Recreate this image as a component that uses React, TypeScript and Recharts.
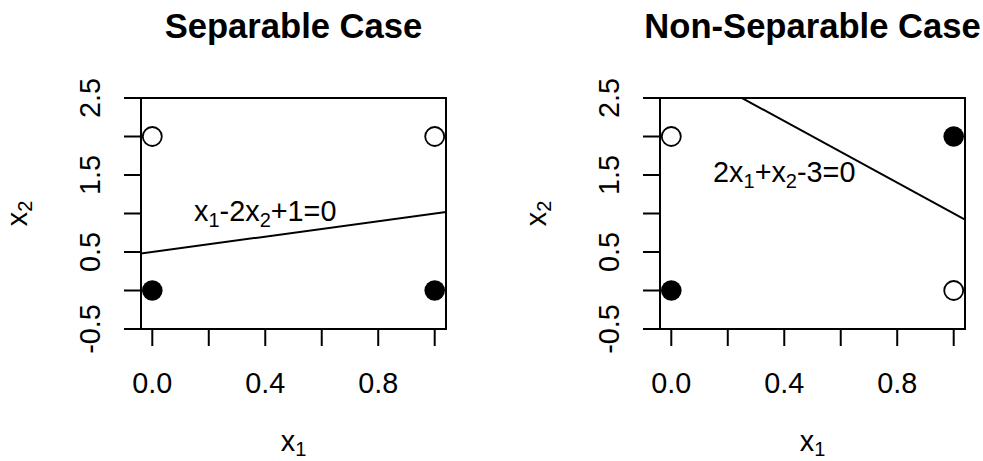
import React from 'react';
import { ScatterChart, Scatter, XAxis, YAxis, ReferenceArea, ReferenceLine, ReferenceDot, Label } from 'recharts';

const FONT = '"Liberation Sans", Arial, Helvetica, sans-serif';
const FS = 28.8;
const SUB = 20;

// axis ticks (R draws every tick but drops overlapping labels)
const xTicks = [0, 0.2, 0.4, 0.6, 0.8, 1.0];
const xTickLabels = [0, 0.4, 0.8];
const yTicks = [-0.5, 0, 0.5, 1, 1.5, 2, 2.5];
const yTickLabels = [-0.5, 0.5, 1.5, 2.5];
const xDomain = [-0.04, 1.04];
const yDomain = [-0.5, 2.5];

// separable case
const sepOpen = [{ x: 0, y: 2 }, { x: 1, y: 2 }];
const sepFilled = [{ x: 0, y: 0 }, { x: 1, y: 0 }];
const sepLine = [{ x: -1, y: 0 }, { x: 2, y: 1.5 }]; // x1 - 2x2 + 1 = 0
const sepEqPos = { x: 0.4, y: 1 };
const sepEq: [string, boolean][] = [['x', false], ['1', true], ['-2x', false], ['2', true], ['+1=0', false]];

// non-separable case
const nonOpen = [{ x: 0, y: 2 }, { x: 1, y: 0 }];
const nonFilled = [{ x: 0, y: 0 }, { x: 1, y: 2 }];
const nonLine = [{ x: 0, y: 3 }, { x: 2, y: -1 }]; // 2x1 + x2 - 3 = 0
const nonEqPos = { x: 0.4, y: 1.5 };
const nonEq: [string, boolean][] = [['2x', false], ['1', true], ['+x', false], ['2', true], ['-3=0', false]];

const x1Title: [string, boolean][] = [['x', false], ['1', true]];
const x2Title: [string, boolean][] = [['x', false], ['2', true]];

function MathText({ x, y, parts, transform, subShift = 6 }: any) {
  let shift = 0;
  return (
    <text x={x} y={y} textAnchor="middle" fontSize={FS} fontFamily={FONT} fill="#000" transform={transform}>
      {parts.map(([t, sub]: [string, boolean], i: number) => {
        const target = sub ? subShift : 0;
        const dy = target - shift;
        shift = target;
        return (
          <tspan key={i} dy={dy} fontSize={sub ? SUB : FS}>{t}</tspan>
        );
      })}
    </text>
  );
}

const XTick = ({ x, y, payload }: any) => {
  if (!xTickLabels.some((v) => Math.abs(v - payload.value) < 1e-9)) return null;
  return (
    <text x={x} y={y + 47} textAnchor="middle" fontSize={FS} fontFamily={FONT} fill="#000">
      {payload.value.toFixed(1)}
    </text>
  );
};

const YTick = ({ x, y, payload }: any) => {
  if (!yTickLabels.some((v) => Math.abs(v - payload.value) < 1e-9)) return null;
  const tx = x - 24;
  return (
    <text x={tx} y={y} textAnchor="middle" fontSize={FS} fontFamily={FONT} fill="#000" transform={`rotate(-90, ${tx}, ${y})`}>
      {payload.value.toFixed(1)}
    </text>
  );
};

const OpenDot = (p: any) => <circle cx={p.cx} cy={p.cy} r={9.5} fill="#fff" stroke="#000" strokeWidth={1.8} />;
const FilledDot = (p: any) => <circle cx={p.cx} cy={p.cy} r={10.3} fill="#000" stroke="none" />;

function Panel({ title, open, filled, line, eqPos, eq, left }: any) {
  return (
    <div style={{ position: 'absolute', left, top: 0 }}>
      <ScatterChart width={464} height={461} margin={{ top: 98, right: 18, bottom: 0, left: 0 }}>
        <XAxis
          type="number"
          dataKey="x"
          domain={xDomain}
          allowDataOverflow
          ticks={xTicks}
          interval={0}
          height={132}
          axisLine={false}
          tickSize={17}
          tickMargin={0}
          stroke="#000"
          tickLine={{ stroke: '#000', strokeWidth: 2 }}
          tick={<XTick />}
        >
          <Label
            content={({ viewBox }: any) => (
              <MathText x={viewBox.x + viewBox.width / 2} y={viewBox.y + 122} parts={x1Title} subShift={5} />
            )}
          />
        </XAxis>
        <YAxis
          type="number"
          dataKey="y"
          domain={yDomain}
          allowDataOverflow
          ticks={yTicks}
          interval={0}
          width={141}
          axisLine={false}
          tickSize={17}
          tickMargin={0}
          stroke="#000"
          tickLine={{ stroke: '#000', strokeWidth: 2 }}
          tick={<YTick />}
        >
          <Label
            content={({ viewBox }: any) => {
              const cx = 27;
              const cy = viewBox.y + viewBox.height / 2;
              return <MathText x={cx} y={cy} parts={x2Title} subShift={5} transform={`rotate(-90, ${cx}, ${cy})`} />;
            }}
          />
        </YAxis>
        <ReferenceArea
          x1={xDomain[0]}
          x2={xDomain[1]}
          y1={yDomain[0]}
          y2={yDomain[1]}
          ifOverflow="visible"
          fill="none"
          fillOpacity={0}
          stroke="#000"
          strokeWidth={2}
        >
          <Label
            content={({ viewBox }: any) => (
              <text
                x={viewBox.x + viewBox.width / 2}
                y={viewBox.y - 60}
                textAnchor="middle"
                fontSize={34.6}
                fontWeight="bold"
                fontFamily={FONT}
                fill="#000"
              >
                {title}
              </text>
            )}
          />
        </ReferenceArea>
        <ReferenceLine segment={line} ifOverflow="hidden" stroke="#000" strokeWidth={2} />
        <ReferenceDot
          x={eqPos.x}
          y={eqPos.y}
          r={0}
          shape={(p: any) => <MathText x={p.cx} y={p.cy + 7} parts={eq} />}
        />
        <Scatter data={open} isAnimationActive={false} shape={OpenDot} />
        <Scatter data={filled} isAnimationActive={false} shape={FilledDot} />
      </ScatterChart>
    </div>
  );
}

export default function App() {
  return (
    <div style={{ position: 'absolute', left: 0, top: 0, width: 983, height: 461, background: '#fff', overflow: 'hidden' }}>
      <Panel title="Separable Case" open={sepOpen} filled={sepFilled} line={sepLine} eqPos={sepEqPos} eq={sepEq} left={0} />
      <Panel title="Non-Separable Case" open={nonOpen} filled={nonFilled} line={nonLine} eqPos={nonEqPos} eq={nonEq} left={519} />
    </div>
  );
}
